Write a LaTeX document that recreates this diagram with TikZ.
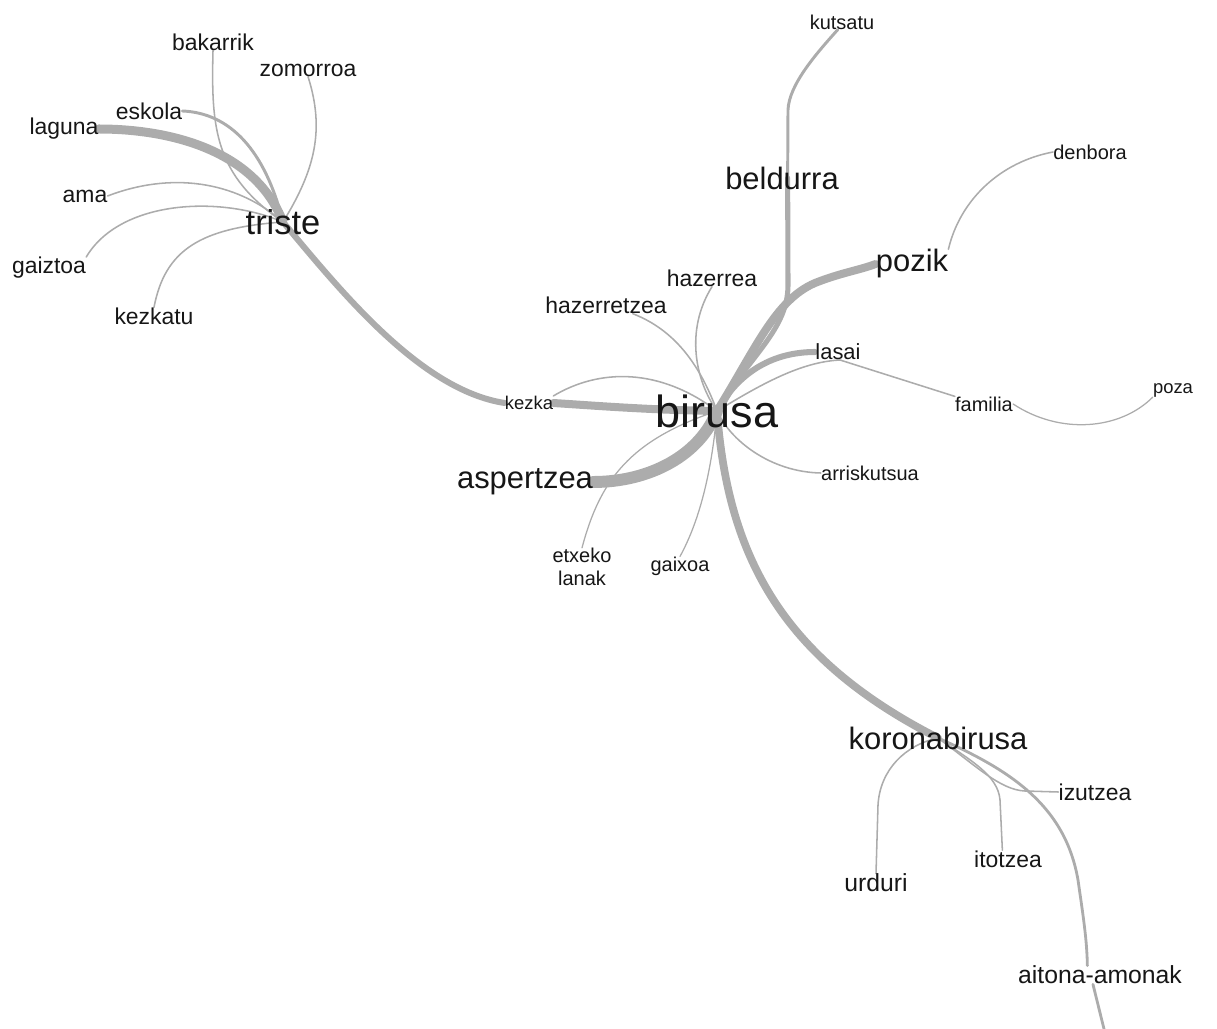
\documentclass[tikz,border=0pt]{standalone}
\usepackage{fontspec}
\setmainfont{Liberation Sans}
\usepackage{tikz}
\usetikzlibrary{backgrounds}
\definecolor{linkgray}{RGB}{172,172,172}
\definecolor{wordink}{RGB}{22,22,22}
\begin{document}
\begin{tikzpicture}[
  x=0.025cm, y=-0.025cm,
  every node/.style = {inner sep=0pt, text=wordink},
  hubword/.style  = {font=\fontsize{32}{36}\selectfont},
  leadword/.style = {font=\fontsize{24.5}{28}\selectfont},
  bigword/.style  = {font=\fontsize{22}{26}\selectfont},
  midword/.style  = {font=\fontsize{16.3}{19}\selectfont},
  plusword/.style = {font=\fontsize{17.6}{20}\selectfont},
  smallword/.style= {font=\fontsize{14.2}{16.4}\selectfont, align=center},
  wlink/.style    = {draw=linkgray, line width=#1, line cap=round},
  wlink/.default  = 1.1pt
]
\useasboundingbox (0,0) rectangle (1217,1029);
% main words
\node[hubword]  (birusa)       at (717,411) {birusa};
\node[leadword] (triste)       at (283,222) {triste};
\node[bigword]  (koronabirusa) at (938,738) {koronabirusa};
\node[bigword]  (beldurra)     at (782,178) {beldurra};
\node[bigword]  (pozik)        at (912,264) {pozik};
\node[bigword]  (aspertzea)    at (525,482) {aspertzea};
% triste side
\node[midword]  (laguna)   at (64,129)  {laguna};
\node[midword]  (eskola)   at (149,111) {eskola};
\node[midword]  (bakarrik) at (213,42)  {bakarrik};
\node[midword]  (zomorroa) at (308,70)  {zomorroa};
\node[midword]  (ama)      at (85,196)  {ama};
\node[midword]  (gaiztoa)  at (49,268)  {gaiztoa};
\node[midword]  (kezkatu)  at (154,316) {kezkatu};
% birusa side
\node[smallword, font=\fontsize{13.1}{15}\selectfont] (kezka) at (529,403) {kezka};
\node[midword]   (hazerretzea) at (606,305) {hazerretzea};
\node[midword]   (hazerrea)    at (712,278) {hazerrea};
\node[smallword] (etxeko)      at (582,567) {etxeko\\lanak};
\node[smallword] (gaixoa)      at (680,566) {gaixoa};
\node[smallword] (arriskutsua) at (870,473) {arriskutsua};
\node[smallword] (kutsatu)     at (842,22)  {kutsatu};
\node[smallword] (denbora)     at (1090,152) {denbora};
\node[midword, font=\fontsize{15.6}{18}\selectfont] (lasai) at (838,352) {lasai};
\node[smallword] (familia)     at (984,404) {familia};
\node[smallword, font=\fontsize{13.1}{15}\selectfont] (poza) at (1173,390) {poza};
% koronabirusa side
\node[midword]  (izutzea) at (1095,792) {izutzea};
\node[midword]  (itotzea) at (1008,859) {itotzea};
\node[plusword] (urduri)  at (876,883)  {urduri};
\node[plusword] (aitona)  at (1100,975) {aitona-amonak};
\coordinate (aitonaend) at (1104,1029);

\begin{scope}[on background layer]
% triste links
\draw[wlink=6.4pt] (laguna.east) .. controls (170,129) and (255,150) .. (triste.center);
\draw[wlink=2.1pt] (eskola.east) .. controls (230,113) and (265,150) .. (triste.center);
\draw[wlink] (bakarrik.south) .. controls (211,130) and (215,175) .. (triste.center);
\draw[wlink] (zomorroa.south) .. controls (325,130) and (315,170) .. (triste.center);
\draw[wlink] (ama.east) .. controls (170,172) and (235,180) .. (triste.center);
\draw[wlink] (gaiztoa.north east) .. controls (120,200) and (220,195) .. (triste.center);
\draw[wlink] (kezkatu.north) .. controls (165,250) and (200,228) .. (triste.center);
\draw[wlink=4.3pt] (triste.center) .. controls (340,290) and (420,390) .. (kezka.west);
% birusa links
\draw[wlink=5.7pt] (kezka.east) .. controls (600,406) and (650,410) .. (birusa.center);
\draw[wlink] (kezka.north east) .. controls (600,368) and (660,368) .. (birusa.center);
\draw[wlink] ([xshift=19pt]hazerretzea.south) .. controls (675,330) and (700,365) .. (birusa.center);
\draw[wlink] (hazerrea.south) .. controls (685,330) and (695,380) .. (birusa.center);
\draw[wlink=8.5pt] (aspertzea.east) .. controls (650,482) and (700,455) .. (birusa.center);
\draw[wlink=0.9pt] (etxeko.north) .. controls (600,480) and (630,440) .. (birusa.center);
\draw[wlink=0.9pt] (gaixoa.north) .. controls (700,520) and (712,470) .. (birusa.center);
\draw[wlink] (birusa.center) .. controls (730,440) and (770,472) .. (arriskutsua.west);
\draw[wlink=3.6pt] (birusa.center) .. controls (750,355) and (788,330) .. (788,285) -- ([xshift=4pt]beldurra.center);
\draw[wlink=2.1pt] ([xshift=4pt]beldurra.center) -- (788,110) .. controls (789,85) and (815,55) .. ([xshift=-3pt]kutsatu.south);
\draw[wlink=5.7pt] (birusa.center) .. controls (755,350) and (775,300) .. (815,283) .. controls (840,273) and (860,270) .. (pozik.west);
\draw[wlink] (denbora.west) .. controls (1000,162) and (960,200) .. (pozik.north east);
\draw[wlink=4.3pt] (birusa.center) .. controls (740,370) and (775,352) .. (lasai.west);
\draw[wlink] (birusa.center) .. controls (760,385) and (800,362) .. (840,360) -- (familia.north west);
\draw[wlink=0.9pt] (familia.east) .. controls (1060,435) and (1120,430) .. (poza.south west);
\draw[wlink=5.5pt] (birusa.center) .. controls (728,560) and (785,660) .. (koronabirusa.center);
% koronabirusa links
\draw[wlink=2pt] (koronabirusa.center) .. controls (1010,770) and (1065,805) .. (1078,880) .. controls (1083,915) and (1087,940) .. ([xshift=-9pt]aitona.north);
\draw[wlink=2pt] ([xshift=-5pt]aitona.south) -- (aitonaend);
\draw[wlink] (koronabirusa.center) .. controls (975,765) and (1000,790) .. (1025,791) -- (izutzea.west);
\draw[wlink] (koronabirusa.center) .. controls (970,760) and (998,775) .. (1000,800) -- ([xshift=-4pt]itotzea.north);
\draw[wlink] (koronabirusa.center) .. controls (905,745) and (880,770) .. (878,805) -- (urduri.north);
\end{scope}
\end{tikzpicture}
\end{document}
